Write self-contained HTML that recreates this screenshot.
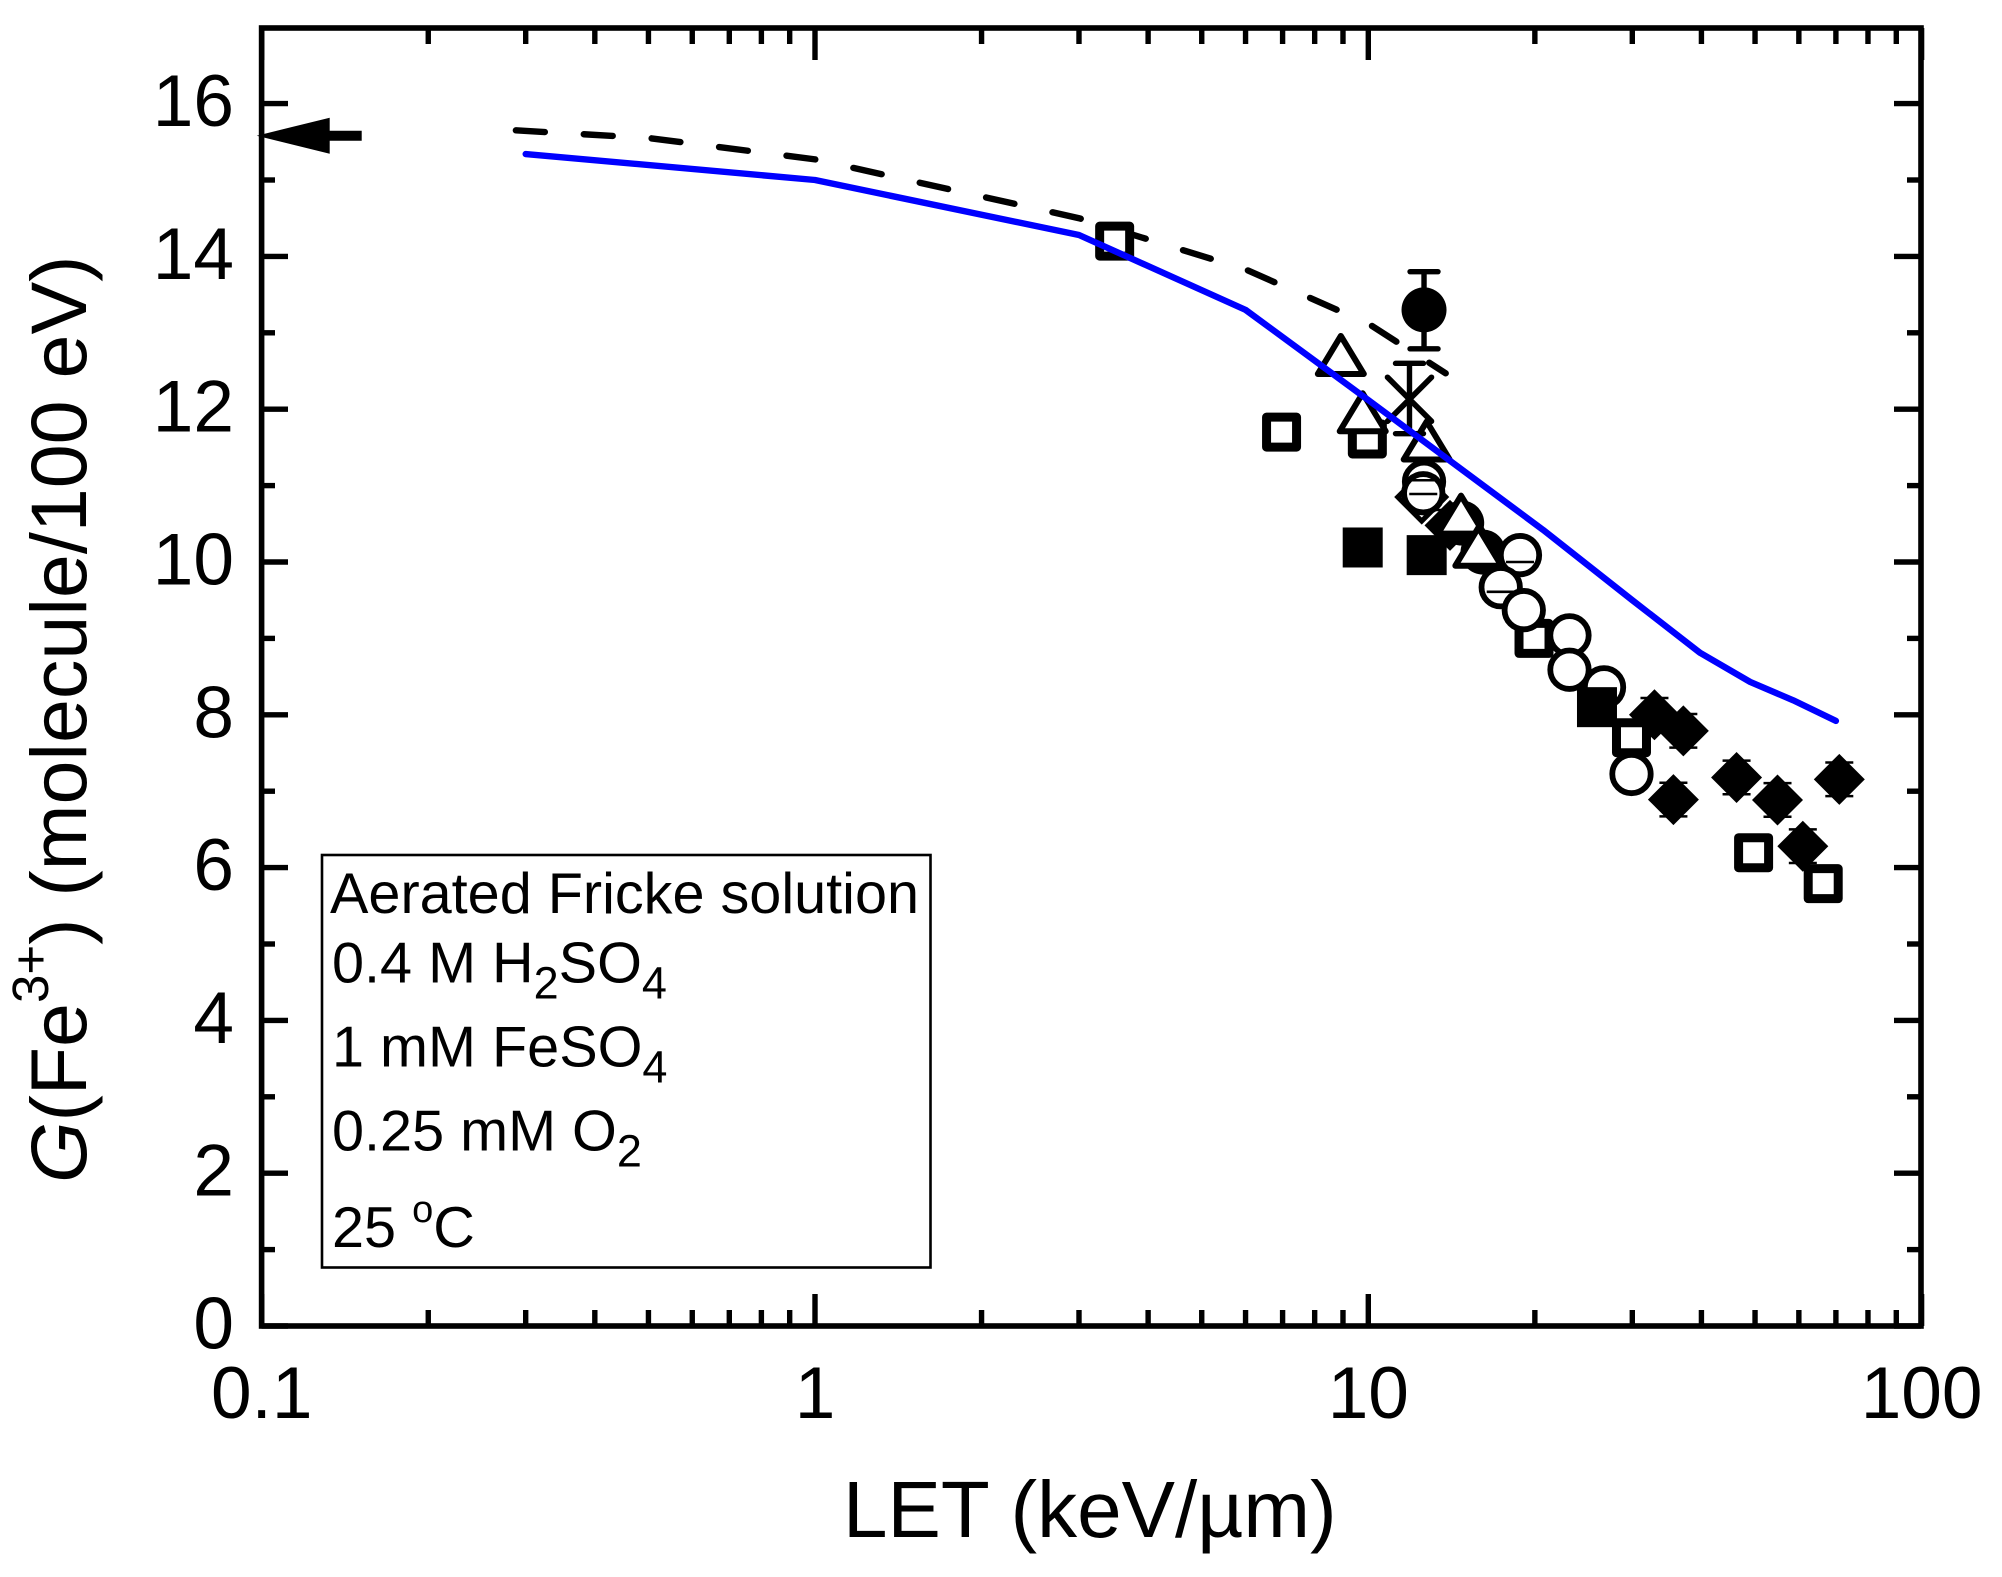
<!DOCTYPE html>
<html lang="en">
<head>
<meta charset="utf-8">
<title>G(Fe3+) vs LET</title>
<style>
html,body{margin:0;padding:0;background:#fff;}
svg{display:block;font-family:"Liberation Sans",Arial,sans-serif;fill:#000;}
</style>
</head>
<body>
<svg id="chart" xmlns="http://www.w3.org/2000/svg" width="2002" height="1577" viewBox="0 0 2002 1577">
  <rect x="0" y="0" width="2002" height="1577" fill="#fff"/>
  <g id="ticks"></g>
  <g id="marks"></g>
  <rect x="261.6" y="28" width="1659.4" height="1298" fill="none" stroke="#000" stroke-width="5.6"/>
  <g id="labels" font-size="73"></g>
  <text x="843" y="1537" font-size="80">LET (keV/µm)</text>
  <text transform="translate(86,1183) rotate(-90)" font-size="79"><tspan font-style="italic">G</tspan>(Fe<tspan font-size="51" dy="-38">3+</tspan><tspan dy="38">)</tspan> (molecule/100 eV)</text>
  <g>
    <rect x="322" y="855" width="608.5" height="412.5" fill="#fff" stroke="#000" stroke-width="2.6"/>
    <text x="330" y="913" font-size="57.6">Aerated Fricke solution</text>
    <text x="332" y="982.5" font-size="57.6">0.4 M H<tspan font-size="45" dy="16">2</tspan><tspan dy="-16">SO</tspan><tspan font-size="45" dy="16">4</tspan></text>
    <text x="332" y="1066.5" font-size="57.6">1 mM FeSO<tspan font-size="45" dy="16">4</tspan></text>
    <text x="332" y="1150.5" font-size="57.6">0.25 mM O<tspan font-size="45" dy="16">2</tspan></text>
    <text x="332" y="1247" font-size="57.6">25 <tspan font-size="38" dy="-25">o</tspan><tspan dy="25">C</tspan></text>
  </g>
</svg>
<script>
var xMajorTicks = [0.1, 1, 10, 100];
var xMinorMultipliers = [2, 3, 4, 5, 6, 7, 8, 9];
var xMinorDecades = [0.1, 1, 10];
var xTickLabels = ["0.1", "1", "10", "100"];
var yMajorTicks = [0, 2, 4, 6, 8, 10, 12, 14, 16];
var yMinorTicks = [1, 3, 5, 7, 9, 11, 13, 15];
var yTickLabels = ["0", "2", "4", "6", "8", "10", "12", "14", "16"];

var blueLineX = [0.3, 1, 3, 6, 10, 14.2, 20.7, 30, 39.8, 49, 58.6, 70];
var blueLineY = [15.34, 15.0, 14.28, 13.3, 12.12, 11.3, 10.42, 9.5, 8.81, 8.43, 8.19, 7.92];
var dashedLineX = [0.288, 0.5, 1, 3, 6, 10, 13.8];
var dashedLineY = [15.65, 15.55, 15.27, 14.5, 13.83, 13.12, 12.47];

var openSquareX = [3.48, 6.97, 9.96, 19.93, 29.9, 49.7, 66.4];
var openSquareY = [14.2, 11.7, 11.61, 9.0, 7.7, 6.195, 5.79];
var filledSquareX = [9.77, 12.75, 25.9];
var filledSquareY = [10.19, 10.09, 8.1];
var openCircleX = [12.61, 12.57, 18.8, 17.35, 19.1, 23.1, 23.1, 26.67, 29.9];
var openCircleY = [11.05, 10.9, 10.09, 9.67, 9.37, 9.04, 8.59, 8.36, 7.225];
var circleCapX = [12.61, 12.57, 18.8, 17.35];
var circleCapY = [11.07, 10.89, 10.0, 9.61];
var filledCircleX = [14.75, 16.12];
var filledCircleY = [10.51, 10.13];
var errCircleX = [12.61];
var errCircleY = [13.3];
var errCircleLow = [12.79];
var errCircleHigh = [13.8];
var triangleX = [8.92, 9.77, 12.75, 14.71, 15.81];
var triangleY = [12.71, 11.96, 11.59, 10.62, 10.2];
var crossX = [11.87];
var crossY = [12.13];
var crossLow = [11.68];
var crossHigh = [12.6];
var openDiamondX = [12.49];
var openDiamondY = [10.85];
var filledDiamondX = [14.05, 32.9, 37.1, 46.3, 54.9, 71.0, 35.6, 61.0];
var filledDiamondY = [10.48, 8.0, 7.79, 7.18, 6.885, 7.155, 6.89, 6.28];
var filledDiamondErr = [0.2, 0.22, 0.22, 0.22, 0.22, 0.22, 0.22, 0.22];
var arrowX = [0.1];
var arrowY = [15.58];

var NS = "http://www.w3.org/2000/svg";
function sx(v) { return 815 + 553.3 * Math.log10(v); }
function sy(v) { return 1326 - 76.4 * v; }
function node(tag, attrs, parent) {
  var el = document.createElementNS(NS, tag);
  for (var k in attrs) { el.setAttribute(k, attrs[k]); }
  parent.appendChild(el);
  return el;
}
function pathFrom(xs, ys) {
  var d = "";
  for (var i = 0; i < xs.length; i++) {
    d += (i ? "L" : "M") + sx(xs[i]).toFixed(2) + " " + sy(ys[i]).toFixed(2);
  }
  return d;
}
var ticks = document.getElementById("ticks");
var marks = document.getElementById("marks");
var labels = document.getElementById("labels");

function tickLine(x1, y1, x2, y2) {
  return node("line", {x1: x1, y1: y1, x2: x2, y2: y2, stroke: "#000", "stroke-width": 5.4}, ticks);
}
xMajorTicks.forEach(function (v, i) {
  var x = sx(v);
  var a = tickLine(x, 1326, x, 1294);
  
  
  var b = tickLine(x, 28, x, 60);
  
  
  var t = node("text", {x: x, y: 1418, "text-anchor": "middle"}, labels);
  t.textContent = xTickLabels[i];
  
  
});
xMinorDecades.forEach(function (d) {
  xMinorMultipliers.forEach(function (m) {
    var x = sx(d * m);
    var a = tickLine(x, 1326, x, 1310);
    
    
    var b = tickLine(x, 28, x, 44);
    
    
  });
});
yMajorTicks.forEach(function (v, i) {
  var y = sy(v);
  var a = tickLine(261.6, y, 288, y);
  
  
  var b = tickLine(1921, y, 1894, y);
  
  
  var t = node("text", {x: 234, y: y + 22.5, "text-anchor": "end"}, labels);
  t.textContent = yTickLabels[i];
  
  
});
yMinorTicks.forEach(function (v) {
  var y = sy(v);
  var a = tickLine(261.6, y, 275, y);
  
  
  var b = tickLine(1921, y, 1907, y);
  
  
});

/* dashed model curve */
var dashed = node("path", {d: pathFrom(dashedLineX, dashedLineY), fill: "none", stroke: "#000", "stroke-width": 6.4, "stroke-linecap": "round", "stroke-dasharray": "29 39"}, marks);



/* open diamonds */
openDiamondX.forEach(function (v, i) {
  var x = sx(v), y = sy(openDiamondY[i]);
  var el = node("polygon", {points: [x, y - 24, x + 24, y, x, y + 24, x - 24, y].join(" "), fill: "#fff", stroke: "#000", "stroke-width": 5}, marks);
  
  
});

/* filled diamonds with small error caps */
filledDiamondX.forEach(function (v, i) {
  var x = sx(v), y = sy(filledDiamondY[i]);
  var el = node("polygon", {points: [x, y - 25.5, x + 25.5, y, x, y + 25.5, x - 25.5, y].join(" "), fill: "#000"}, marks);
  
  
  var hi = sy(filledDiamondY[i] + filledDiamondErr[i]);
  var lo = sy(filledDiamondY[i] - filledDiamondErr[i]);
  var c1 = node("line", {x1: x - 14, y1: hi, x2: x + 14, y2: hi, stroke: "#000", "stroke-width": 2.5}, marks);
  
  
  var c2 = node("line", {x1: x - 14, y1: lo, x2: x + 14, y2: lo, stroke: "#000", "stroke-width": 2.5}, marks);
  
  
});

/* filled circles without error bars */
filledCircleX.forEach(function (v, i) {
  var el = node("circle", {cx: sx(v), cy: sy(filledCircleY[i]), r: 22.5, fill: "#000"}, marks);
  
  
});

/* open squares */
openSquareX.forEach(function (v, i) {
  var x = sx(v), y = sy(openSquareY[i]);
  var el = node("rect", {x: x - 15, y: y - 15, width: 30, height: 30, fill: "#fff", stroke: "#000", "stroke-width": 9, "stroke-linejoin": "round"}, marks);
  
  
});

/* open circles */
openCircleX.forEach(function (v, i) {
  var el = node("circle", {cx: sx(v), cy: sy(openCircleY[i]), r: 19.2, fill: "#fff", stroke: "#000", "stroke-width": 5.8}, marks);
  
  
});
circleCapX.forEach(function (v, i) {
  var x = sx(v), y = sy(circleCapY[i]);
  var el = node("line", {x1: x - 14, y1: y, x2: x + 14, y2: y, stroke: "#000", "stroke-width": 2.6}, marks);
  
  
});

/* filled squares */
filledSquareX.forEach(function (v, i) {
  var x = sx(v), y = sy(filledSquareY[i]);
  var el = node("rect", {x: x - 20, y: y - 20, width: 40, height: 40, fill: "#000"}, marks);
  
  
});

/* open triangles */
triangleX.forEach(function (v, i) {
  var x = sx(v), y = sy(triangleY[i]);
  var el = node("polygon", {points: [x, y - 19, x + 23, y + 19, x - 23, y + 19].join(" "), fill: "#fff", stroke: "#000", "stroke-width": 6, "stroke-linejoin": "round"}, marks);
  
  
});

/* cross with error bar */
crossX.forEach(function (v, i) {
  var x = sx(v), y = sy(crossY[i]), lo = sy(crossLow[i]), hi = sy(crossHigh[i]);
  var d = "M" + (x - 22) + " " + (y - 22) + "L" + (x + 22) + " " + (y + 22) + "M" + (x + 22) + " " + (y - 22) + "L" + (x - 22) + " " + (y + 22);
  var el = node("path", {d: d, fill: "none", stroke: "#000", "stroke-width": 5.6, "stroke-linecap": "round"}, marks);
  
  
  var eb = "M" + x + " " + hi + "L" + x + " " + lo + "M" + (x - 14) + " " + hi + "L" + (x + 14) + " " + hi + "M" + (x - 14) + " " + lo + "L" + (x + 14) + " " + lo;
  var e = node("path", {d: eb, fill: "none", stroke: "#000", "stroke-width": 5.4, "stroke-linecap": "round"}, marks);
  
  
});

/* filled circle with error bar */
errCircleX.forEach(function (v, i) {
  var x = sx(v), y = sy(errCircleY[i]), lo = sy(errCircleLow[i]), hi = sy(errCircleHigh[i]);
  var eb = "M" + x + " " + hi + "L" + x + " " + lo + "M" + (x - 14) + " " + hi + "L" + (x + 14) + " " + hi + "M" + (x - 14) + " " + lo + "L" + (x + 14) + " " + lo;
  var e = node("path", {d: eb, fill: "none", stroke: "#000", "stroke-width": 5.4, "stroke-linecap": "round"}, marks);
  
  
  var el = node("circle", {cx: x, cy: y, r: 22.5, fill: "#000"}, marks);
  
  
});

/* blue model curve */
var blue = node("path", {d: pathFrom(blueLineX, blueLineY), fill: "none", stroke: "#0000ff", "stroke-width": 6.4, "stroke-linejoin": "round", "stroke-linecap": "round"}, marks);



/* arrow at the low-LET limit */
arrowX.forEach(function (v, i) {
  var x = sx(v), y = sy(arrowY[i]);
  var pts = [x - 5, y, x + 68, y - 18, x + 68, y - 5, x + 100, y - 5, x + 100, y + 5, x + 68, y + 5, x + 68, y + 18].join(" ");
  var el = node("polygon", {points: pts, fill: "#000"}, marks);
  
  
});
</script>
</body>
</html>
